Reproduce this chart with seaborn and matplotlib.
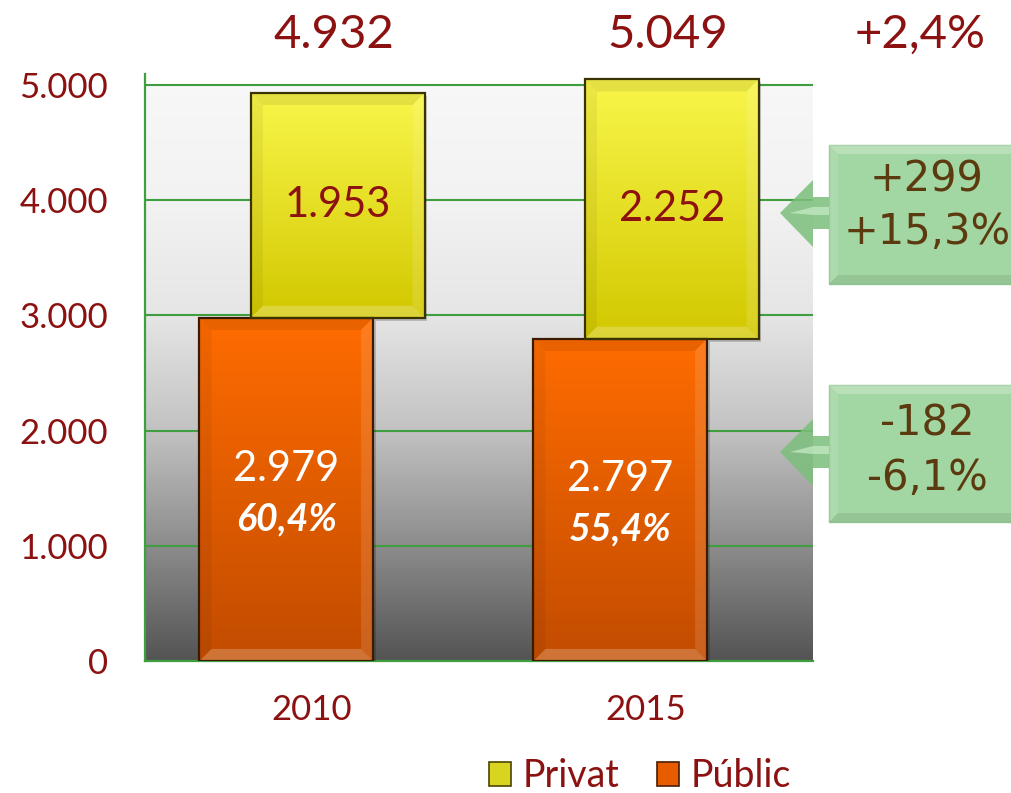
import numpy as np
import pandas as pd
import matplotlib
matplotlib.use("Agg")
import matplotlib.pyplot as plt
import matplotlib.transforms as mtransforms
from matplotlib.patches import Polygon, Rectangle, Patch
from matplotlib.colors import LinearSegmentedColormap
import seaborn as sns

# ---------------- data ----------------
years = ["2010", "2015"]
public = [2979, 2797]
private = [1953, 2252]
yticks = [0, 1000, 2000, 3000, 4000, 5000]
legend_labels = ["Privat", "Públic"]

totals = [a + b for a, b in zip(public, private)]
share_public = [100.0 * p / t for p, t in zip(public, totals)]
d_priv = private[1] - private[0]
d_pub = public[1] - public[0]
pct_priv = 100.0 * d_priv / private[0]
pct_pub = 100.0 * d_pub / public[0]
pct_tot = 100.0 * (totals[1] - totals[0]) / totals[0]


def fmt_int(v):
    return f"{v:,.0f}".replace(",", ".")


def fmt_pct(v, sign=False):
    s = f"{v:+.1f}" if sign else f"{v:.1f}"
    return s.replace(".", ",") + "%"


# ---------------- style ----------------
sns.set_style("white")
plt.rcParams["font.family"] = ["Lato", "DejaVu Sans"]

DARKRED = "#8c1212"
GREEN = "#3f9f3f"
BROWN = "#5b3a0f"
YELLOW = "#e6e232"
ORANGE = "#f06400"
W, H = 1012, 793

fig = plt.figure(figsize=(W / 100, H / 100), dpi=100)
ax = fig.add_axes([145 / W, 132 / H, 668 / W, 587.5 / H])

BAR_W = 0.52
OFF = 0.077

df_pub = pd.DataFrame({"year": years, "value": public})
df_priv = pd.DataFrame({"year": years, "value": private})

sns.barplot(data=df_pub, x="year", y="value", ax=ax, width=BAR_W,
            color=ORANGE, saturation=1, errorbar=None, zorder=3)
pub_bars = list(ax.containers[-1])
sns.barplot(data=df_priv, x="year", y="value", ax=ax, width=BAR_W,
            color=YELLOW, saturation=1, errorbar=None, zorder=3)
priv_bars = list(ax.containers[-1])

for p in pub_bars:
    p.set_x(p.get_x() - OFF)
for p, base in zip(priv_bars, public):
    p.set_x(p.get_x() + OFF)
    p.set_y(base)


def bevel(p, top_col, bot_col, edge):
    x, y, w, h = p.get_x(), p.get_y(), p.get_width(), p.get_height()
    cmap = LinearSegmentedColormap.from_list("g", [bot_col, top_col])
    grad = np.linspace(0, 1, 256).reshape(-1, 1)
    im = ax.imshow(grad, extent=(x, x + w, y, y + h), origin="lower",
                   cmap=cmap, aspect="auto", zorder=3.1, interpolation="bilinear")
    im.set_clip_path(p)
    bx, by = 0.036, 105
    polys = [
        ([(x, y + h), (x + w, y + h), (x + w - bx, y + h - by), (x + bx, y + h - by)], "black", 0.08),
        ([(x, y), (x + w, y), (x + w - bx, y + by), (x + bx, y + by)], "white", 0.22),
        ([(x, y), (x, y + h), (x + bx, y + h - by), (x + bx, y + by)], "black", 0.05),
        ([(x + w, y), (x + w, y + h), (x + w - bx, y + h - by), (x + w - bx, y + by)], "white", 0.12),
    ]
    for pts, c, a in polys:
        ax.add_patch(Polygon(pts, closed=True, facecolor=c, alpha=a,
                             edgecolor="none", zorder=3.2))
    # shadow
    ax.add_patch(Rectangle((x + 0.008, y - 25), w, h, facecolor="#000000",
                           alpha=0.18, edgecolor="none", zorder=2.9))
    p.set_facecolor("none")
    p.set_edgecolor(edge)
    p.set_linewidth(1.6)
    p.set_zorder(3.3)


for p in pub_bars:
    bevel(p, "#ff6c00", "#c24c00", "#3c1a00")
for p in priv_bars:
    bevel(p, "#f9f64a", "#d2c800", "#3a3300")

# background gradient
vals = np.linspace(0, 5000, 300)
gray = np.interp(vals, [0, 1000, 2000, 3000, 4000, 5000],
                 [0.33, 0.55, 0.76, 0.90, 0.95, 0.97])
bg = np.dstack([gray, gray, gray]).reshape(-1, 1, 3)
ax.imshow(bg, extent=(-0.5, 1.5, 0, 5000), origin="lower", aspect="auto",
          zorder=0.1, interpolation="bilinear")

ax.set_xlim(-0.5, 1.5)
ax.set_ylim(0, 5100)
ax.set_axisbelow(True)
ax.yaxis.grid(True, color=GREEN, linewidth=1.5)
ax.xaxis.grid(False)
ax.set_xlabel("")
ax.set_ylabel("")
for s in ["top", "right"]:
    ax.spines[s].set_visible(False)
for s in ["left", "bottom"]:
    ax.spines[s].set_color(GREEN)
    ax.spines[s].set_linewidth(1.6)

ax.set_yticks(yticks)
ax.set_yticklabels([fmt_int(v) for v in yticks])
ax.tick_params(axis="y", which="major", length=9.5, width=1.5, color=GREEN,
               labelcolor=DARKRED, labelsize=25, pad=17, direction="out")

ax.set_xticks([-0.5, 0.5, 1.5])
ax.set_xticklabels(["", "", ""])
ax.set_xticks([0, 1], minor=True)
ax.set_xticklabels(years, minor=True)
ax.tick_params(axis="x", which="major", length=8, width=1.5, color=GREEN,
               direction="out")
ax.tick_params(axis="x", which="minor", length=0, labelcolor=DARKRED,
               labelsize=25, pad=24)

# labels inside bars
for i, p in enumerate(priv_bars):
    cx = p.get_x() + p.get_width() / 2
    cy = p.get_y() + p.get_height() / 2
    ax.text(cx, cy, fmt_int(private[i]), ha="center", va="center",
            color=DARKRED, fontsize=30, zorder=5)
for i, p in enumerate(pub_bars):
    cx = p.get_x() + p.get_width() / 2
    cy = p.get_y() + p.get_height() / 2
    ax.annotate(fmt_int(public[i]), (cx, cy), xytext=(0, 15),
                textcoords="offset points", ha="center", va="center",
                color="white", fontsize=30, zorder=5)
    ax.annotate(fmt_pct(share_public[i]), (cx, cy), xytext=(0, -21),
                textcoords="offset points", ha="center", va="center",
                color="white", fontsize=27, fontweight="bold",
                fontstyle="italic", zorder=5)

# totals on top
blend = mtransforms.blended_transform_factory(ax.transData, fig.transFigure)
for i, p in enumerate(priv_bars):
    cx = p.get_x() + p.get_width() / 2
    ax.text(cx - 0.012, 1 - 35 / H, fmt_int(totals[i]), transform=blend,
            ha="center", va="center", color=DARKRED, fontsize=34)
fig.text(920 / W, 1 - 35 / H, fmt_pct(pct_tot, sign=True), ha="center",
         va="center", color=DARKRED, fontsize=34)

# callouts (figure pixel coordinates)
pix = mtransforms.Affine2D().scale(1 / W, -1 / H).translate(0, 1) + fig.transFigure


def callout(y_tip, y_top, y_bot, line1, line2, y1, y2):
    box = Rectangle((829, y_top), 240, y_bot - y_top, transform=pix,
                    facecolor="#a2d6a2", edgecolor="#90c490", linewidth=1.0)
    fig.add_artist(box)
    b = 9
    fig.add_artist(Polygon([(829, y_top), (1069, y_top), (1069 - b, y_top + b), (829 + b, y_top + b)],
                           transform=pix, facecolor="white", alpha=0.25, edgecolor="none"))
    fig.add_artist(Polygon([(829, y_bot), (1069, y_bot), (1069 - b, y_bot - b), (829 + b, y_bot - b)],
                           transform=pix, facecolor="black", alpha=0.08, edgecolor="none"))
    fig.add_artist(Polygon([(829, y_top), (829, y_bot), (829 + b, y_bot - b), (829 + b, y_top + b)],
                           transform=pix, facecolor="white", alpha=0.12, edgecolor="none"))
    arrow = [(780, y_tip), (813, y_tip - 33), (813, y_tip - 16), (829, y_tip - 16),
             (829, y_tip + 16), (813, y_tip + 16), (813, y_tip + 34)]
    fig.add_artist(Polygon(arrow, transform=pix, facecolor="#7cbf7c",
                           alpha=0.85, edgecolor="none"))
    fig.add_artist(Polygon([(790, y_tip), (813, y_tip - 6), (829, y_tip - 6),
                            (829, y_tip + 2), (813, y_tip + 2)],
                           transform=pix, facecolor="#c8ecc8", alpha=0.7,
                           edgecolor="none"))
    for txt, yy in ((line1, y1), (line2, y2)):
        fig.text(927 / W, 1 - yy / H, txt, ha="center", va="center",
                 color=BROWN, fontsize=30, family=["DejaVu Sans"])


callout(213, 145, 284, f"{d_priv:+d}", fmt_pct(pct_priv, sign=True), 180, 232)
callout(452, 385, 522, f"{d_pub:+d}", fmt_pct(pct_pub, sign=True), 424, 478)

# legend
handles = [Patch(facecolor="#d8d420", edgecolor="#4a4400", linewidth=1.2),
           Patch(facecolor="#e85c00", edgecolor="#4a1e00", linewidth=1.2)]
fig.legend(handles, legend_labels, loc="center", bbox_to_anchor=(640 / W, 1 - 776 / H),
           ncol=2, frameon=False, fontsize=27, labelcolor=DARKRED,
           handlelength=0.6, handleheight=0.6, handletextpad=0.3,
           columnspacing=1.0)

fig.savefig("out.png", dpi=100)
